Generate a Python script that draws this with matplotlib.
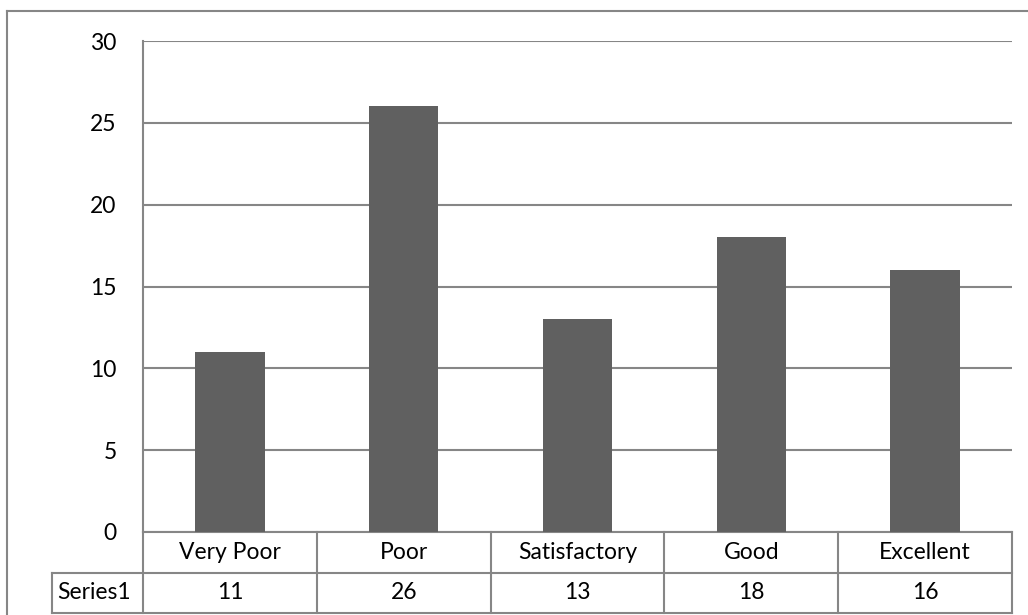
import numpy as np
import matplotlib
matplotlib.use('Agg')
import matplotlib.pyplot as plt
from matplotlib.lines import Line2D
import matplotlib.transforms as mtransforms

categories = ['Very Poor', 'Poor', 'Satisfactory', 'Good', 'Excellent']
values = [11, 26, 13, 18, 16]
series_name = 'Series1'
yticks = [0, 5, 10, 15, 20, 25, 30]

plt.rcParams['font.family'] = ['Lato', 'DejaVu Sans']
W, H = 1028, 615
grey = '#868686'
bar_color = '#606060'
fs = 16.5

fig = plt.figure(figsize=(W / 100, H / 100), dpi=100)
ax = fig.add_axes([143 / W, 1 - 532 / H, (1012 - 143) / W, (532 - 41) / H])

x = np.arange(len(categories))
ax.bar(x, values, width=0.4, color=bar_color, zorder=3)
ax.set_xlim(-0.5, len(categories) - 0.5)
ax.set_ylim(0, 30)
ax.set_yticks(yticks)
ax.yaxis.grid(True, color=grey, linewidth=1.5, zorder=0)
ax.tick_params(axis='y', length=0, pad=19, labelsize=fs)
ax.set_xticks([])
for s in ['top', 'right', 'bottom']:
    ax.spines[s].set_visible(False)
ax.spines['left'].set_color(grey)
ax.spines['left'].set_linewidth(1.5)

# data table under the axis
trans = mtransforms.blended_transform_factory(ax.transData, ax.transAxes)
row_h = 40.5 / (532 - 41)
y0, y1, y2 = 0, -row_h, -2 * row_h
lbl_left = -0.5 - (143 - 52) / ((1012 - 143) / len(categories))
kw = dict(color=grey, linewidth=1.5, transform=trans, clip_on=False)
ax.plot([-0.5, 4.5], [y0, y0], **kw)
ax.plot([lbl_left, 4.5], [y1, y1], **kw)
ax.plot([lbl_left, 4.5], [y2, y2], **kw)
ax.plot([lbl_left, lbl_left], [y1, y2], **kw)
for b in np.arange(len(categories) + 1) - 0.5:
    ax.plot([b, b], [y0, y2], **kw)
for i, (c, v) in enumerate(zip(categories, values)):
    ax.text(i, (y0 + y1) / 2, c, transform=trans, ha='center', va='center', fontsize=fs)
    ax.text(i, (y1 + y2) / 2, str(v), transform=trans, ha='center', va='center', fontsize=fs)
ax.text(lbl_left + 0.03, (y1 + y2) / 2, series_name, transform=trans, ha='left', va='center', fontsize=fs)

# chart area border
fig.add_artist(Line2D([7 / W, 7 / W], [1 - 11 / H, 0], color=grey, linewidth=1.5))
fig.add_artist(Line2D([7 / W, 1], [1 - 11 / H, 1 - 11 / H], color=grey, linewidth=1.5))

fig.savefig('out.png', dpi=100)
